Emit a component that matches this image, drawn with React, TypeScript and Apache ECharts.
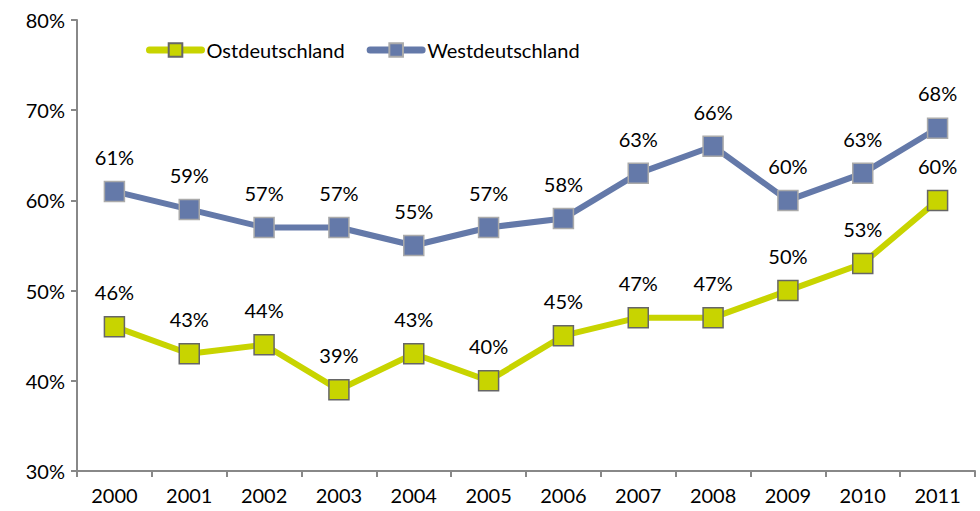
import React, { useEffect, useRef } from "react";
import * as echarts from "echarts";

const years = ["2000","2001","2002","2003","2004","2005","2006","2007","2008","2009","2010","2011"];
const ost = [46, 43, 44, 39, 43, 40, 45, 47, 47, 50, 53, 60];
const west = [61, 59, 57, 57, 55, 57, 58, 63, 66, 60, 63, 68];

const FONT = "Lato, 'Noto Sans', sans-serif";
const FS = 20;

export default function App() {
  const ref = useRef<HTMLDivElement>(null);
  useEffect(() => {
    if (!ref.current) return;
    const chart = echarts.init(ref.current, undefined, { renderer: "svg" });
    const label = {
      show: true,
      position: "top",
      distance: 14,
      formatter: (p: any) => p.value + "%",
      color: "#000",
      fontSize: FS,
      fontFamily: FONT,
    };
    chart.setOption({
      animation: false,
      textStyle: { fontFamily: FONT },
      grid: { left: 77, right: 5, top: 20, bottom: 40 },
      legend: {
        left: 141,
        top: 35,
        itemWidth: 52,
        itemHeight: 17,
        itemGap: 22,
        lineStyle: { width: 7, cap: "round" },
        textStyle: { fontSize: FS, color: "#000", fontFamily: FONT },
        data: ["Ostdeutschland", "Westdeutschland"],
      },
      xAxis: {
        type: "category",
        data: years,
        boundaryGap: true,
        axisLine: { lineStyle: { color: "#888", width: 2 } },
        axisTick: { show: true, length: 6, lineStyle: { color: "#888", width: 2 } },
        axisLabel: { color: "#000", fontSize: FS, margin: 14, fontFamily: FONT },
      },
      yAxis: {
        type: "value",
        min: 30,
        max: 80,
        interval: 10,
        splitLine: { show: false },
        axisLine: { show: true, lineStyle: { color: "#888", width: 2 } },
        axisTick: { show: true, length: 6, lineStyle: { color: "#888", width: 2 } },
        axisLabel: { color: "#000", fontSize: FS, margin: 12, formatter: "{value}%", fontFamily: FONT },
      },
      series: [
        {
          name: "Ostdeutschland",
          type: "line",
          data: ost,
          symbol: "rect",
          symbolSize: 20,
          lineStyle: { color: "#C8D400", width: 6 },
          itemStyle: { color: "#C8D400", borderColor: "#666", borderWidth: 1.5 },
          label,
          z: 2,
        },
        {
          name: "Westdeutschland",
          type: "line",
          data: west,
          symbol: "rect",
          symbolSize: 20,
          lineStyle: { color: "#6479A9", width: 6 },
          itemStyle: { color: "#6479A9", borderColor: "#aaa", borderWidth: 1.5 },
          label,
          z: 3,
        },
      ],
    });
    return () => chart.dispose();
  }, []);
  return (
    <div
      ref={ref}
      style={{ position: "absolute", left: 0, top: 0, width: 980, height: 511 }}
    />
  );
}
